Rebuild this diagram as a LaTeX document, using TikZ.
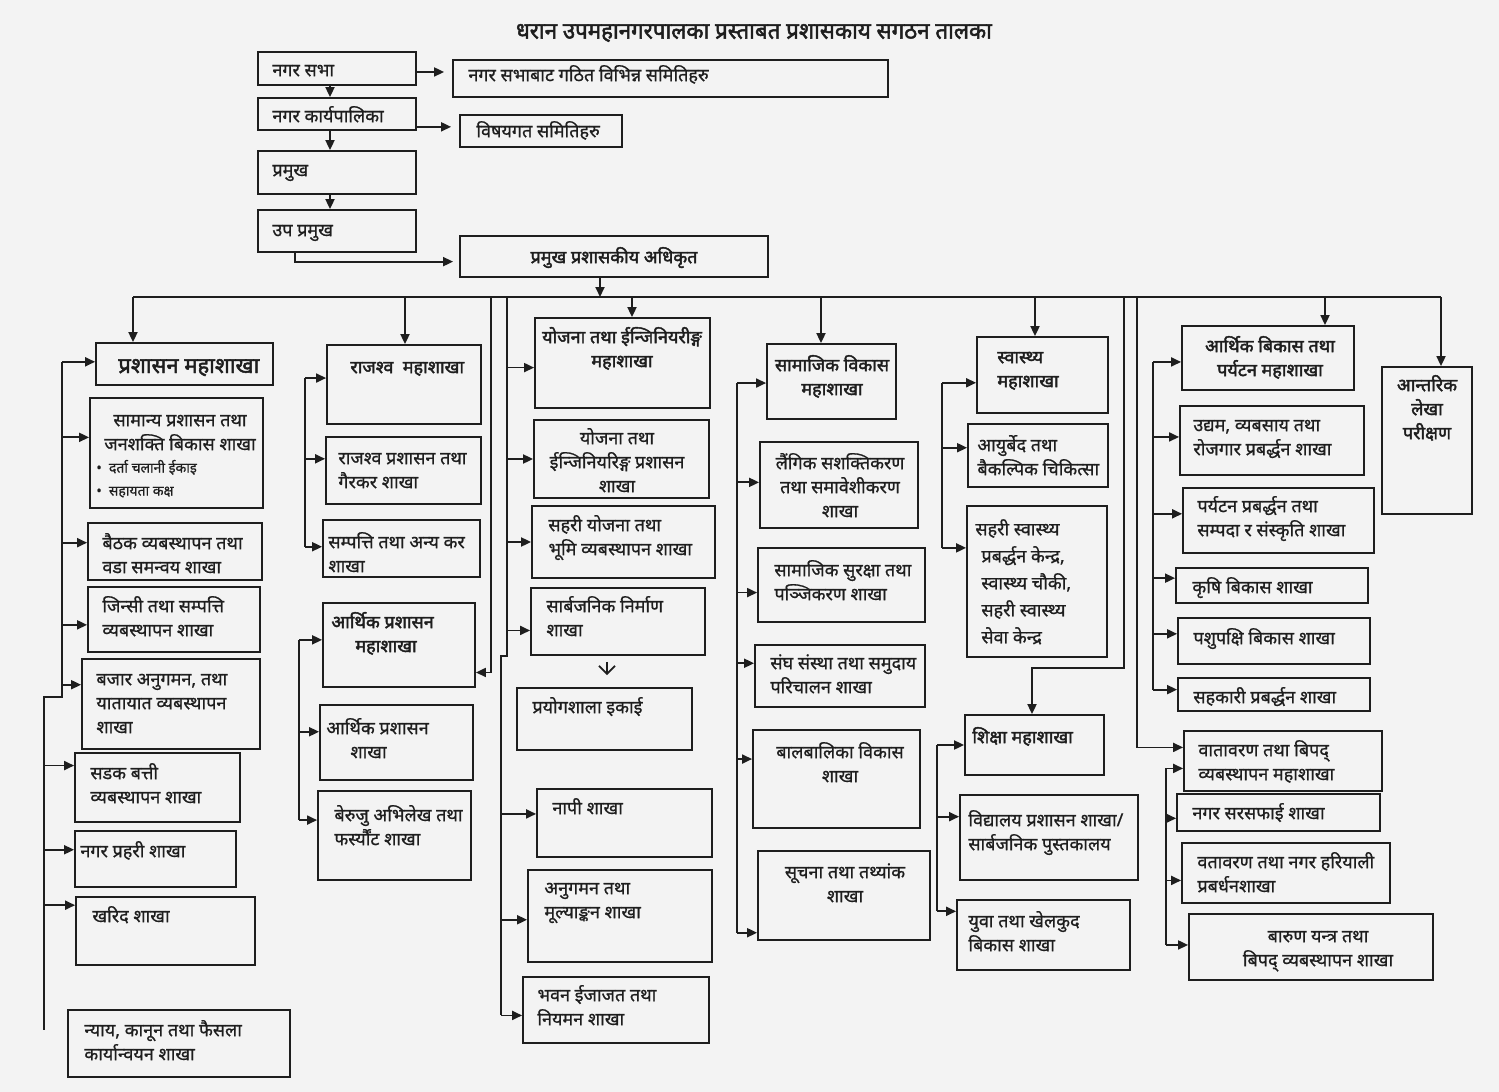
\documentclass[tikz,border=0pt]{standalone}
\usepackage{fontspec}
\setmainfont{Noto Sans}[Script=Devanagari,FakeBold=0.7]
\newfontfamily\hdfam{Noto Sans}[Script=Devanagari,FakeBold=2.2]
\usetikzlibrary{fit,calc,arrows.meta}
\definecolor{bg}{HTML}{F3F3F3}
\definecolor{ink}{HTML}{1E1E1E}
\newcommand\fnm{\fontsize{9}{12}\selectfont}
\newcommand\fhd{\hdfam\fontsize{9}{12}\selectfont}
\newcommand\fbg{\hdfam\fontsize{11}{14}\selectfont}
\newcommand\fsm{\fontsize{7}{11.5}\selectfont}
\newcommand\fsp{\fontsize{9}{13.5}\selectfont}
\newcommand\fttl{\hdfam\fontsize{11.5}{14}\selectfont}
\tikzset{
  ln/.style={draw=ink,line width=0.9pt},
  arr/.style={ln,-{Triangle[length=5pt,width=4.5pt]}},
  oarr/.style={ln,-{Straight Barb[length=4pt,width=8pt]}},
  bx/.style={draw=ink,line width=0.9pt,inner sep=0pt,rectangle},
  tx/.style={inner sep=0pt,anchor=north west,align=left,font=\fnm,text=ink},
}
\newcommand\B[6]{\node[bx,fit={(#2)(#3)}] (#1) {}; \node[tx,#5] (#1-t) at (#4) {\strut #6};}
\newcommand\pin[4]{\coordinate (#1-#3) at ($(#1.north #2)!#4!(#1.south #2)$);}
\begin{document}
\begin{tikzpicture}[x=0.5pt,y=-0.5pt]
\fill[bg] (0,0) rectangle (1499,1092);
\useasboundingbox (0,0) rectangle (1499,1092);
\node[font=\fttl,text=ink,xscale=0.97] (ttl) at (754,33) {धरान उपमहानगरपालका प्रस्ताबत प्रशासकाय सगठन तालका};
% top
\B{ns}{258,52}{416,85}{272,59}{}{नगर सभा}
\B{sm1}{453,60}{888,97}{468,64}{}{नगर सभाबाट गठित विभिन्न समितिहरु}
\B{kp}{258,98}{416,130}{272,105}{}{नगर कार्यपालिका}
\B{sm2}{460,115}{622,147}{476,120}{}{विषयगत समितिहरु}
\B{pr}{258,151}{416,194}{272,159}{}{प्रमुख}
\B{up}{258,210}{416,252}{272,219}{}{उप प्रमुख}
\B{cao}{460,236}{768,277}{614,246}{anchor=north,font=\fhd}{प्रमुख प्रशासकीय अधिकृत}
% col 1
\B{pm}{96,343}{273,385}{118,353}{font=\fbg}{प्रशासन महाशाखा}
\B{sa}{90,398}{263,508}{180,409}{anchor=north,align=center}{सामान्य प्रशासन तथा\\जनशक्ति बिकास शाखा}
\node[tx,font=\fsm] (sa-b) at (96,456) {\strut • \ दर्ता चलानी ईकाइ\\• \ सहायता कक्ष};
\B{bt}{88,523}{262,580}{102,532}{}{बैठक व्यबस्थापन तथा\\वडा समन्वय शाखा}
\B{ji}{88,587}{260,652}{102,595}{}{जिन्सी तथा सम्पत्ति\\व्यबस्थापन शाखा}
\B{bj}{82,659}{260,749}{96,668}{}{बजार अनुगमन, तथा\\यातायात व्यबस्थापन\\शाखा}
\B{sd}{75,753}{240,822}{90,762}{}{सडक बत्ती\\व्यबस्थापन शाखा}
\B{np}{75,831}{236,887}{80,840}{}{नगर प्रहरी शाखा}
\B{kh}{76,897}{255,965}{92,905}{}{खरिद शाखा}
\B{ny}{68,1010}{290,1077}{84,1019}{}{न्याय, कानून तथा फैसला\\कार्यान्वयन शाखा}
% col 2
\B{rm}{327,345}{481,424}{350,356}{font=\fhd}{राजश्व\ \ महाशाखा}
\B{rp}{326,437}{481,504}{338,447}{}{राजश्व प्रशासन तथा\\गैरकर शाखा}
\B{sp}{323,520}{480,577}{328,531}{}{सम्पत्ति तथा अन्य कर\\शाखा}
\B{am}{323,603}{475,687}{331,611}{font=\fhd}{आर्थिक प्रशासन\\\hspace*{12pt}महाशाखा}
\B{as}{320,705}{473,780}{326,717}{}{आर्थिक प्रशासन\\\hspace*{12pt}शाखा}
\B{be}{318,791}{471,880}{334,804}{}{बेरुजु अभिलेख तथा\\फर्स्यौंट शाखा}
% col 3
\B{ym}{535,318}{710,408}{622,326}{anchor=north,align=center,font=\fhd}{योजना तथा ईन्जिनियरीङ्ग\\महाशाखा}
\B{yp}{534,420}{709,498}{617,427}{anchor=north,align=center}{योजना तथा\\ईन्जिनियरिङ्ग प्रशासन\\शाखा}
\B{sy}{532,506}{715,578}{548,514}{}{सहरी योजना तथा\\भूमि व्यबस्थापन शाखा}
\B{sb}{531,588}{705,655}{546,595}{}{सार्बजनिक निर्माण\\शाखा}
\B{pl}{517,688}{692,750}{532,696}{}{प्रयोगशाला इकाई}
\B{na}{537,789}{712,857}{552,797}{}{नापी शाखा}
\B{an}{528,870}{712,962}{544,877}{}{अनुगमन तथा\\मूल्याङ्कन शाखा}
\B{bh}{523,977}{709,1043}{537,984}{}{भवन ईजाजत तथा\\नियमन शाखा}
% col 4
\B{sj}{767,344}{896,419}{832,354}{anchor=north,align=center,font=\fhd}{सामाजिक विकास\\महाशाखा}
\B{lg}{760,442}{918,528}{840,452}{anchor=north,align=center}{लैंगिक सशक्तिकरण\\तथा समावेशीकरण\\शाखा}
\B{ss}{758,548}{925,622}{774,559}{}{सामाजिक सुरक्षा तथा\\पञ्जिकरण शाखा}
\B{sg}{755,645}{925,707}{770,652}{}{संघ संस्था तथा समुदाय\\परिचालन शाखा}
\B{bb}{753,730}{920,828}{840,741}{anchor=north,align=center}{बालबालिका विकास\\शाखा}
\B{sc}{758,851}{930,940}{845,861}{anchor=north,align=center}{सूचना तथा तथ्यांक\\शाखा}
% col 5
\B{sw}{977,337}{1108,413}{997,346}{font=\fhd}{स्वास्थ्य\\महाशाखा}
\B{ay}{968,424}{1108,487}{977,434}{}{आयुर्बेद तथा\\बैकल्पिक चिकित्सा}
\B{sh}{967,506}{1107,657}{975,516}{font=\fsp}{सहरी स्वास्थ्य\\\hspace*{3pt}प्रबर्द्धन केन्द्र,\\\hspace*{3pt}स्वास्थ्य चौकी,\\\hspace*{3pt}सहरी स्वास्थ्य\\\hspace*{3pt}सेवा केन्द्र}
\B{sk}{965,715}{1104,775}{972,726}{font=\fhd}{शिक्षा महाशाखा}
\B{vd}{960,795}{1138,880}{968,809}{}{विद्यालय प्रशासन शाखा/\\सार्बजनिक पुस्तकालय}
\B{yu}{957,900}{1130,970}{968,910}{}{युवा तथा खेलकुद\\बिकास शाखा}
% col 6
\B{ab}{1182,326}{1354,390}{1270,335}{anchor=north,align=center,font=\fhd}{आर्थिक बिकास तथा\\पर्यटन महाशाखा}
\B{ud}{1180,406}{1364,475}{1193,414}{}{उद्यम, व्यबसाय तथा\\रोजगार प्रबर्द्धन शाखा}
\B{pt}{1183,488}{1374,553}{1197,495}{}{पर्यटन प्रबर्द्धन तथा\\सम्पदा र संस्कृति शाखा}
\B{kr}{1176,568}{1368,603}{1192,576}{}{कृषि बिकास शाखा}
\B{ps}{1178,618}{1370,664}{1193,627}{}{पशुपक्षि बिकास शाखा}
\B{sh2}{1178,678}{1370,711}{1193,686}{}{सहकारी प्रबर्द्धन शाखा}
\B{ant}{1382,367}{1472,514}{1427,374}{anchor=north,align=center,font=\fhd}{आन्तरिक\\लेखा\\परीक्षण}
% col 7
\B{bm}{1184,731}{1382,791}{1198,739}{}{वातावरण तथा बिपद्\\व्यबस्थापन महाशाखा}
\B{sf}{1177,794}{1380,831}{1192,802}{}{नगर सरसफाई शाखा}
\B{bn}{1182,843}{1390,903}{1197,851}{}{वतावरण तथा नगर हरियाली\\प्रबर्धनशाखा}
\B{br}{1189,914}{1433,980}{1318,925}{anchor=north,align=center}{बारुण यन्त्र तथा\\बिपद् व्यबस्थापन शाखा}
% ---------- connectors: top
\pin{ns}{east}{e}{0.6}
\draw[arr,shorten >=4pt] (ns-e) -- (ns-e -| sm1.west);
\pin{kp}{east}{e}{0.88}
\draw[arr,shorten >=4pt] (kp-e) -- (kp-e -| sm2.west);
\coordinate (vx) at (330,0);
\draw[arr] (vx |- ns.south) -- (vx |- kp.north);
\draw[arr] (vx |- kp.south) -- (vx |- pr.north);
\draw[arr] (vx |- pr.south) -- (vx |- up.north);
\coordinate (ux) at (295,0);
\pin{cao}{west}{w}{0.62}
\draw[arr,shorten >=3pt] (ux |- up.south) |- (cao-w);
% bus
\coordinate (busL) at (133,297);
\coordinate (busR) at (1441,297);
\draw[ln] (busL) -- (busR);
\coordinate (d0) at (600,297);
\draw[arr] (d0 |- cao.south) -- (d0);
\coordinate (d2) at (405,297);
\coordinate (d3) at (632,297);
\coordinate (d4) at (821,297);
\coordinate (d5) at (1035,297);
\coordinate (d6) at (1325,297);
\draw[arr] (busL) -- (busL |- pm.north);
\draw[arr] (d2) -- (d2 |- rm.north);
\draw[arr] (d3) -- (d3 |- ym.north);
\draw[arr] (d4) -- (d4 |- sj.north);
\draw[arr] (d5) -- (d5 |- sw.north);
\draw[arr] (d6) -- (d6 |- ab.north);
\draw[arr] (busR) -- (busR |- ant.north);
% col 1
\pin{pm}{west}{w}{0.45}\pin{sa}{west}{w}{0.36}\pin{bt}{west}{w}{0.35}\pin{ji}{west}{w}{0.58}\pin{bj}{west}{w}{0.29}
\pin{sd}{west}{w}{0.19}\pin{np}{west}{w}{0.34}\pin{kh}{west}{w}{0.13}
\coordinate (c1) at (62,0);
\coordinate (c1j) at (62,697);
\coordinate (c1k) at (44,697);
\coordinate (c1e) at (44,1030);
\draw[ln] (c1 |- pm-w) -- (c1j) -- (c1k) -- (c1e);
\foreach \n in {pm,sa,bt,ji,bj} {\draw[arr] (c1 |- \n-w) -- (\n-w);}
\foreach \n in {sd,np,kh} {\draw[arr] (c1k |- \n-w) -- (\n-w);}
% col 2
\pin{rm}{west}{w}{0.42}\pin{rp}{west}{w}{0.33}\pin{sp}{west}{w}{0.47}
\pin{am}{west}{w}{0.44}\pin{as}{west}{w}{0.36}\pin{be}{west}{w}{0.33}
\coordinate (c2) at (305,0);
\coordinate (c2b) at (299,0);
\draw[ln] (c2 |- rm-w) -- (c2 |- sp-w);
\draw[ln] (c2b |- am-w) -- (c2b |- be-w);
\foreach \n in {rm,rp,sp} {\draw[arr] (c2 |- \n-w) -- (\n-w);}
\foreach \n in {am,as,be} {\draw[arr] (c2b |- \n-w) -- (\n-w);}
% lines A and B from bus
\coordinate (la) at (491,297);
\pin{am}{east}{e}{0.82}
\draw[arr] (la) |- (am-e);
\pin{ym}{west}{w}{0.55}\pin{yp}{west}{w}{0.5}\pin{sy}{west}{w}{0.5}\pin{sb}{west}{w}{0.63}
\pin{na}{west}{w}{0.37}\pin{an}{west}{w}{0.54}\pin{bh}{west}{w}{0.58}
\coordinate (lb) at (507,297);
\coordinate (lb2) at (501,297);
\draw[ln] (lb) -- (lb |- sb.south) -- (lb2 |- sb.south) -- (lb2 |- bh-w);
\foreach \n in {ym,yp,sy,sb} {\draw[arr] (lb |- \n-w) -- (\n-w);}
\foreach \n in {na,an,bh} {\draw[arr] (lb2 |- \n-w) -- (\n-w);}
\coordinate (px) at (607,0);
\draw[oarr,shorten <=3pt,shorten >=6pt] (px |- sb.south) -- (px |- pl.north);
% col 4
\pin{sj}{west}{w}{0.52}\pin{lg}{west}{w}{0.47}\pin{ss}{west}{w}{0.6}\pin{sg}{west}{w}{0.3}\pin{bb}{west}{w}{0.3}\pin{sc}{west}{w}{0.91}
\coordinate (c4) at (737,0);
\draw[ln] (c4 |- sj-w) -- (c4 |- sc-w);
\foreach \n in {sj,lg,ss,sg,bb,sc} {\draw[arr] (c4 |- \n-w) -- (\n-w);}
% col 5
\pin{sw}{west}{w}{0.6}\pin{ay}{west}{w}{0.38}\pin{sh}{west}{w}{0.28}
\pin{sk}{west}{w}{0.5}\pin{vd}{west}{w}{0.26}\pin{yu}{west}{w}{0.17}
\coordinate (c5) at (942,0);
\coordinate (c5b) at (937,0);
\draw[ln] (c5 |- sw-w) -- (c5 |- sh-w);
\draw[ln] (c5b |- sk-w) -- (c5b |- yu-w);
\foreach \n in {sw,ay,sh} {\draw[arr] (c5 |- \n-w) -- (\n-w);}
\foreach \n in {sk,vd,yu} {\draw[arr] (c5b |- \n-w) -- (\n-w);}
\coordinate (lc) at (1124,297);
\coordinate (lcj) at (1124,668);
\coordinate (lck) at (1032,668);
\draw[arr] (lc) -- (lcj) -- (lck) -- (lck |- sk.north);
% col 6
\pin{ab}{west}{w}{0.56}\pin{ud}{west}{w}{0.45}\pin{pt}{west}{w}{0.4}\pin{kr}{west}{w}{0.3}\pin{ps}{west}{w}{0.35}\pin{sh2}{west}{w}{0.36}
\coordinate (c6) at (1153,0);
\draw[ln] (c6 |- ab-w) -- (c6 |- sh2-w);
\foreach \n in {ab,ud,pt,kr,ps,sh2} {\draw[arr] (c6 |- \n-w) -- (\n-w);}
% col 7
\pin{bm}{west}{w}{0.62}\pin{sf}{west}{w}{0.65}\pin{bn}{west}{w}{0.62}\pin{br}{west}{w}{0.47}
\pin{bm}{west}{x}{0.28}
\coordinate (c7) at (1166,0);
\draw[ln] (c7 |- bm-w) -- (c7 |- br-w);
\foreach \n in {bm,sf,bn,br} {\draw[arr] (c7 |- \n-w) -- (\n-w);}
\coordinate (ld) at (1137,297);
\draw[arr] (ld) |- (bm-x);
\end{tikzpicture}
\end{document}
